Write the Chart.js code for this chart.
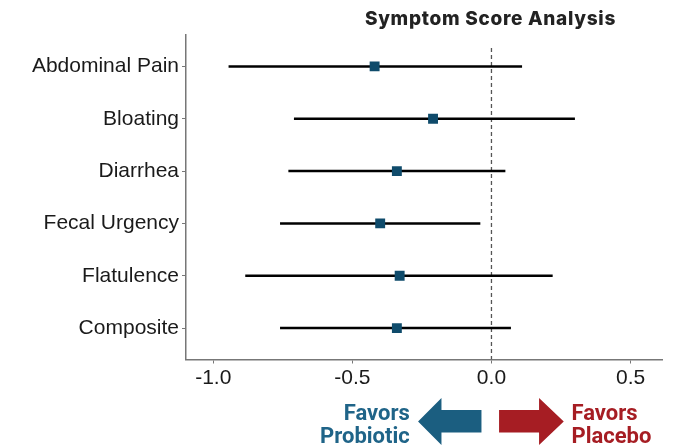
<!DOCTYPE html>
<html>
<head>
<meta charset="utf-8">
<script src="https://cdn.jsdelivr.net/npm/chart.js@4.4.1/dist/chart.umd.min.js"></script>
<style>
  html, body { margin: 0; padding: 0; background: #fff; }
</style>
</head>
<body>
<canvas id="chart" width="678" height="446"></canvas>
<script>
// forest plot: estimate with 95% CI per outcome
const outcomes = ['Abdominal Pain', 'Bloating', 'Diarrhea', 'Fecal Urgency', 'Flatulence', 'Composite'];
const estimate = [-0.42, -0.21, -0.34, -0.40, -0.33, -0.34];
const lowerCI = [-0.945, -0.71, -0.73, -0.76, -0.885, -0.76];
const upperCI = [0.11, 0.30, 0.05, -0.04, 0.22, 0.07];
const xTicks = [-1.0, -0.5, 0.0, 0.5];

const blue = '#1b5e80';
const red = '#a61d23';

const ciSets = outcomes.map((name, i) => ({
  type: 'line',
  label: name,
  data: [{ x: lowerCI[i], y: i + 1 }, { x: upperCI[i], y: i + 1 }],
  borderColor: '#000',
  borderWidth: 2.5,
  pointRadius: 0,
  order: 1
}));

// title + favors arrows underneath
const extras = {
  id: 'extras',
  afterDraw(chart) {
    const ctx = chart.ctx;
    const zero = chart.scales.x.getPixelForValue(0);
    ctx.save();
    ctx.fillStyle = '#222';
    ctx.font = '800 19px Inter';
    ctx.letterSpacing = '0.7px';
    ctx.textAlign = 'center';
    ctx.textBaseline = 'alphabetic';
    ctx.fillText('Symptom Score Analysis', zero - 1, 25);
    ctx.letterSpacing = '0px';

    const cy = 421.5;
    // left arrow
    ctx.fillStyle = blue;
    ctx.beginPath();
    ctx.moveTo(zero - 73.4, cy);
    ctx.lineTo(zero - 50, cy - 23.5);
    ctx.lineTo(zero - 50, cy - 11.5);
    ctx.lineTo(zero - 10, cy - 11.5);
    ctx.lineTo(zero - 10, cy + 11);
    ctx.lineTo(zero - 50, cy + 11);
    ctx.lineTo(zero - 50, cy + 23.5);
    ctx.closePath();
    ctx.fill();
    // right arrow
    ctx.fillStyle = red;
    ctx.beginPath();
    ctx.moveTo(zero + 72.3, cy);
    ctx.lineTo(zero + 47.6, cy - 23.5);
    ctx.lineTo(zero + 47.6, cy - 11.5);
    ctx.lineTo(zero + 7.6, cy - 11.5);
    ctx.lineTo(zero + 7.6, cy + 11);
    ctx.lineTo(zero + 47.6, cy + 11);
    ctx.lineTo(zero + 47.6, cy + 23.5);
    ctx.closePath();
    ctx.fill();

    ctx.font = 'bold 22px Roboto';
    ctx.fillStyle = '#1f6488';
    ctx.textAlign = 'right';
    ctx.fillText('Favors', zero - 81.7, 420);
    ctx.fillText('Probiotic', zero - 81.7, 443);
    ctx.fillStyle = red;
    ctx.textAlign = 'left';
    ctx.fillText('Favors', zero + 80, 420);
    ctx.fillText('Placebo', zero + 80, 443);
    ctx.restore();
  }
};

new Chart(document.getElementById('chart'), {
  type: 'scatter',
  data: {
    datasets: [
      {
        label: 'Estimate',
        data: outcomes.map((name, i) => ({ x: estimate[i], y: i + 1 })),
        pointStyle: 'rect',
        pointRadius: 7,
        backgroundColor: '#0f4b6b',
        borderWidth: 0,
        order: 0
      },
      ...ciSets,
      {
        type: 'line',
        label: 'No effect',
        data: [{ x: 0, y: 0.65 }, { x: 0, y: 6.6 }],
        borderColor: '#555',
        borderWidth: 1.3,
        borderDash: [4, 3],
        pointRadius: 0,
        order: 2
      }
    ]
  },
  options: {
    responsive: false,
    animation: false,
    devicePixelRatio: 1,
    layout: { padding: { top: 35, right: 16, left: 0, bottom: 0 } },
    plugins: { legend: { display: false }, tooltip: { enabled: false } },
    scales: {
      x: {
        type: 'linear',
        min: -1.098,
        max: 0.613,
        afterBuildTicks: s => { s.ticks = xTicks.map(v => ({ value: v })); },
        afterFit: s => { s.height = 86.5; },
        ticks: {
          callback: v => v.toFixed(1),
          font: { family: 'Liberation Sans', size: 21 },
          color: '#1a1a1a',
          padding: 2,
          maxRotation: 0,
          autoSkip: false
        },
        grid: { drawOnChartArea: false, tickLength: 4, color: '#777' },
        border: { color: '#777', width: 1.5 }
      },
      y: {
        type: 'linear',
        reverse: true,
        min: 0.4,
        max: 6.6,
        afterBuildTicks: s => { s.ticks = outcomes.map((n, i) => ({ value: i + 1 })); },
        afterFit: s => { s.width = 186; },
        ticks: {
          callback: v => outcomes[Math.round(v) - 1],
          font: { family: 'Liberation Sans', size: 21 },
          color: '#1a1a1a',
          padding: 3,
          autoSkip: false
        },
        grid: { drawOnChartArea: false, tickLength: 4, color: '#777' },
        border: { color: '#777', width: 1.5 }
      }
    }
  },
  plugins: [extras]
});
</script>
</body>
</html>
